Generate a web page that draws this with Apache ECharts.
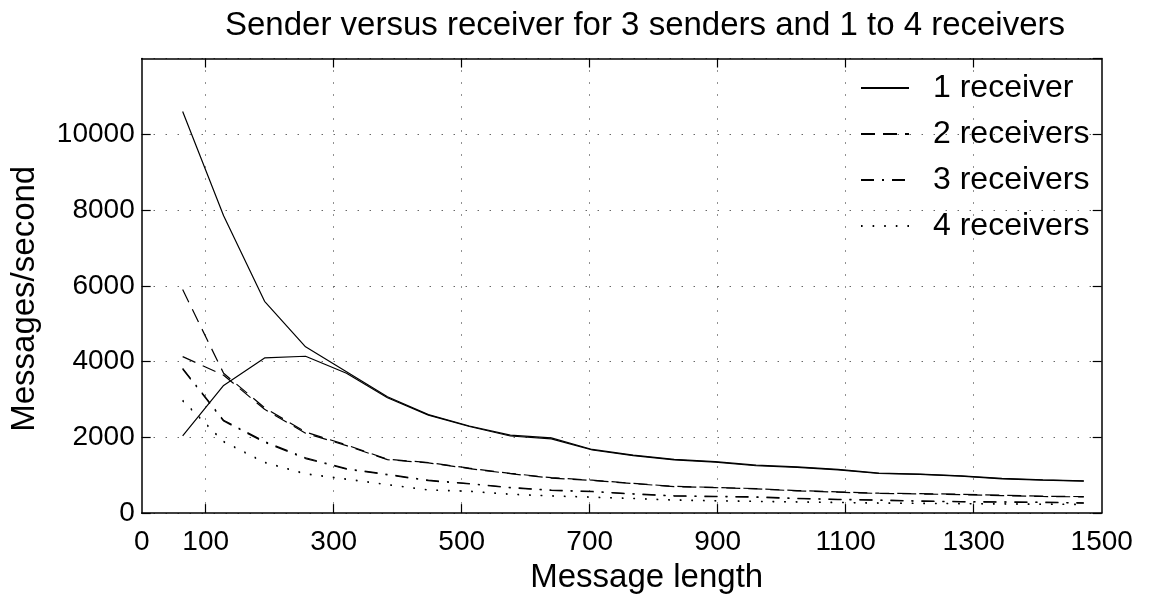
<!DOCTYPE html>
<html><head><meta charset="utf-8">
<script src="https://cdn.jsdelivr.net/npm/echarts@6/dist/echarts.min.js"></script>
<style>html,body{margin:0;padding:0;background:#fff}#c{width:1153px;height:599px}</style>
</head><body><div id="c"></div>
<script>
// Message lengths (x positions of the measurements)
const messageLength = [64,128,192,256,320,384,448,512,576,640,704,768,832,896,960,1024,1088,1152,1216,1280,1344,1408,1472];

// 1 receiver (two curves: sender side and receiver side)
const recv1Sender   = [10600,7850,5590,4390,3730,3070,2600,2300,2060,1985,1680,1530,1420,1360,1265,1220,1155,1055,1030,985,915,878,850];
const recv1Receiver = [2040,3370,4095,4140,3690,3045,2585,2285,2035,1960,1665,1515,1405,1345,1250,1205,1140,1045,1020,975,905,870,842];
// 2 receivers
const recv2Sender   = [5900,3690,2780,2140,1800,1420,1335,1185,1050,935,870,785,705,680,645,595,560,525,515,498,472,446,436];
const recv2Receiver = [4130,3640,2740,2110,1780,1410,1325,1175,1040,925,862,778,700,672,638,588,552,518,505,488,462,438,428];
// 3 receivers
const recv3Sender   = [3820,2450,1890,1460,1175,1025,868,782,678,608,574,511,459,443,430,392,366,347,322,306,298,290,272];
const recv3Receiver = [3800,2430,1870,1440,1160,1010,855,770,668,598,565,502,450,432,418,382,356,337,312,296,288,280,262];
// 4 receivers
const recv4Sender   = [2980,1895,1346,1043,903,756,616,582,503,459,425,391,350,330,315,300,285,270,262,255,248,240,235];
const recv4Receiver = [2960,1875,1330,1030,890,745,605,570,492,448,415,380,340,320,305,290,275,260,252,245,238,230,225];

const seriesNames = ['1 receiver','2 receivers','3 receivers','4 receivers'];
const xTickValues  = [100,300,500,700,900,1100,1300];
const xLabelValues = [0,100,300,500,700,900,1100,1300,1500];

const FONT = "'Liberation Sans', Arial, Helvetica, sans-serif";
const FS_TICK = 28, FS_LEG = 32, FS_TITLE = 33;

const dashStyles = ['solid', [14,8], [13,8,2,8], [1.6,10]];

function pairs(vals){ return messageLength.map((x,i)=>[x, vals[i]]); }
function mk(idx, vals){
  return {
    type:'line', name: seriesNames[idx], data: pairs(vals),
    symbol:'none', showSymbol:false, smooth:false, silent:true,
    xAxisIndex:0, yAxisIndex:0,
    lineStyle:{ color:'#000', width:1.2, type: dashStyles[idx], cap:'butt' },
    itemStyle:{ color:'#000' },
    emphasis:{ disabled:true }
  };
}
const plain = v => String(v);

const chart = echarts.init(document.getElementById('c'), null, {renderer:'canvas'});
const gridLine = { show:true, lineStyle:{ color:'#222', width:1, type:[1,11] } };
chart.setOption({
  animation:false,
  backgroundColor:'#fff',
  textStyle:{ fontFamily: FONT },
  title:{
    text:'Sender versus receiver for 3 senders and 1 to 4 receivers',
    left: 640, top: 4, textAlign:'center',
    textStyle:{ fontFamily: FONT, fontSize: FS_TITLE, fontWeight:'normal', color:'#000' }
  },
  grid:{ left:141.7, right:51.3, top:58.5, bottom:79.7, containLabel:false },
  legend:{
    data: seriesNames, orient:'vertical', left: 855, top: 67,
    itemWidth: 48, itemHeight: 16, itemGap: 14,
    selectedMode:false,
    itemStyle:{ color:'rgba(0,0,0,0)', borderColor:'rgba(0,0,0,0)', borderWidth:0 },
    formatter: n => '{a|' + n + '}',
    textStyle:{ fontFamily: FONT, fontSize: FS_LEG, color:'#000', lineHeight: 32,
      rich:{ a:{ fontFamily: FONT, fontSize: FS_LEG, color:'#000', lineHeight: 32, padding:[0,0,0,19] } } }
  },
  xAxis:[{
    type:'value', min:0, max:1500, interval:100, position:'bottom',
    name:'Message length', nameLocation:'middle', nameGap: 42,
    nameTextStyle:{ fontFamily: FONT, fontSize: FS_TITLE, color:'#000', padding:[0,0,0,50] },
    axisLine:{ show:true, onZero:false, lineStyle:{ color:'#000', width:1.5 } },
    axisTick:{ show:true, inside:true, length:9, customValues: xTickValues, lineStyle:{ color:'#000', width:1.2 } },
    axisLabel:{ show:true, customValues: xLabelValues, margin: 15, formatter: plain, fontFamily: FONT, fontSize: FS_TICK, color:'#000' },
    splitLine: gridLine
  },{
    type:'value', min:0, max:1500, interval:100, position:'top',
    axisLine:{ show:true, onZero:false, lineStyle:{ color:'#000', width:1.5 } },
    axisTick:{ show:true, inside:true, length:9, customValues: xTickValues, lineStyle:{ color:'#000', width:1.2 } },
    axisLabel:{ show:false },
    splitLine:{ show:false }
  }],
  yAxis:[{
    type:'value', min:0, max:12000, interval:2000, position:'left',
    name:'Messages/second', nameLocation:'middle', nameGap: 100,
    nameTextStyle:{ fontFamily: FONT, fontSize: FS_TITLE, color:'#000', padding:[0,26,0,0] },
    axisLine:{ show:true, onZero:false, lineStyle:{ color:'#000', width:1.5 } },
    axisTick:{ show:true, inside:true, length:9, lineStyle:{ color:'#000', width:1.2 } },
    axisLabel:{ show:true, showMaxLabel:false, margin: 7, formatter: plain, fontFamily: FONT, fontSize: FS_TICK, color:'#000' },
    splitLine: gridLine
  },{
    type:'value', min:0, max:12000, interval:2000, position:'right',
    axisLine:{ show:true, onZero:false, lineStyle:{ color:'#000', width:1.5 } },
    axisTick:{ show:true, inside:true, length:9, lineStyle:{ color:'#000', width:1.2 } },
    axisLabel:{ show:false },
    splitLine:{ show:false }
  }],
  series:[
    mk(0, recv1Sender), mk(0, recv1Receiver),
    mk(1, recv2Sender), mk(1, recv2Receiver),
    mk(2, recv3Sender), mk(2, recv3Receiver),
    mk(3, recv4Sender), mk(3, recv4Receiver)
  ]
});
</script></body></html>
